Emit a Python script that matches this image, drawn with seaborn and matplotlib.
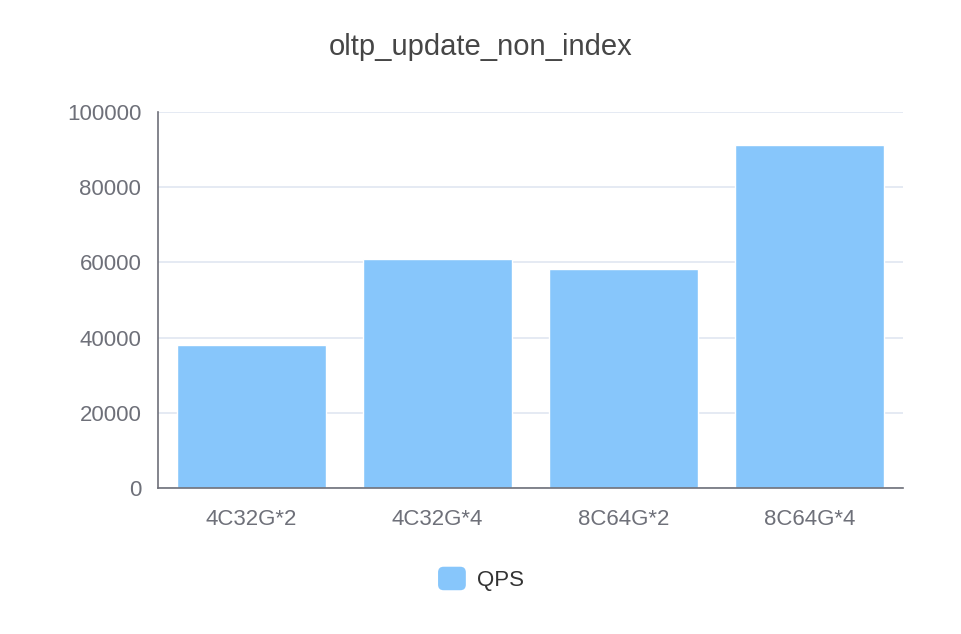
import pandas as pd
import seaborn as sns
import matplotlib.pyplot as plt
from matplotlib.patches import Patch, FancyBboxPatch
from matplotlib.legend_handler import HandlerPatch

# === 数据 ===
categories = ['4C32G*2', '4C32G*4', '8C64G*2', '8C64G*4']
qps = [38000, 60900, 58200, 91100]
y_ticks = [0, 20000, 40000, 60000, 80000, 100000]

BAR_COLOR = '#87c6fb'
AXIS_COLOR = '#6e7079'
GRID_COLOR = '#e0e6f1'

sns.set_theme(style='white')
plt.rcParams['font.family'] = ['Liberation Sans', 'DejaVu Sans']

df = pd.DataFrame({'config': categories, 'QPS': qps})

fig = plt.figure(figsize=(9.62, 6.34), dpi=100)
ax = fig.add_axes([0.1642, 0.2303, 0.7745, 0.593])

sns.barplot(data=df, x='config', y='QPS', color=BAR_COLOR, saturation=1,
            width=0.8, ax=ax, zorder=2)

ax.set_xlim(-0.5, len(categories) - 0.5)
ax.set_ylim(0, 100000)
ax.set_yticks(y_ticks)
ax.set_yticklabels([str(v) for v in y_ticks])
ax.set_xlabel('')
ax.set_ylabel('')

# 水平网格线
ax.grid(axis='y', color=GRID_COLOR, linewidth=1.2, zorder=0)
ax.set_axisbelow(True)

# 坐标轴样式
for side in ['top', 'right']:
    ax.spines[side].set_visible(False)
for side in ['left', 'bottom']:
    ax.spines[side].set_color(AXIS_COLOR)
    ax.spines[side].set_linewidth(1.2)

# x 轴刻度位于类别边界
ax.set_xticks([i - 0.5 for i in range(len(categories) + 1)], minor=True)
ax.tick_params(axis='x', which='minor', direction='in', length=5,
               color=AXIS_COLOR, width=1.2)
ax.tick_params(axis='x', which='major', length=0, pad=15,
               labelsize=16, labelcolor=AXIS_COLOR)
ax.tick_params(axis='y', direction='in', length=5, color=AXIS_COLOR,
               width=1.2, pad=12, labelsize=16, labelcolor=AXIS_COLOR)

fig.text(0.5, 0.926, 'oltp_update_non_index', ha='center', va='center',
         fontsize=21, color='#464646')


# 圆角图例色块
class RoundHandler(HandlerPatch):
    def create_artists(self, legend, orig_handle, xdescent, ydescent,
                       width, height, fontsize, trans):
        p = FancyBboxPatch((-xdescent, -ydescent), width, height,
                           boxstyle='round,pad=0,rounding_size=4',
                           facecolor=orig_handle.get_facecolor(),
                           edgecolor='none', transform=trans)
        return [p]


handle = Patch(facecolor=BAR_COLOR, edgecolor='none', label='QPS')
fig.legend(handles=[handle], loc='center', bbox_to_anchor=(0.5, 0.087),
           frameon=False, fontsize=16, handlelength=1.25, handleheight=1.25,
           handletextpad=0.5, labelcolor='#333333',
           handler_map={Patch: RoundHandler()})

fig.savefig('out.png', dpi=100)
